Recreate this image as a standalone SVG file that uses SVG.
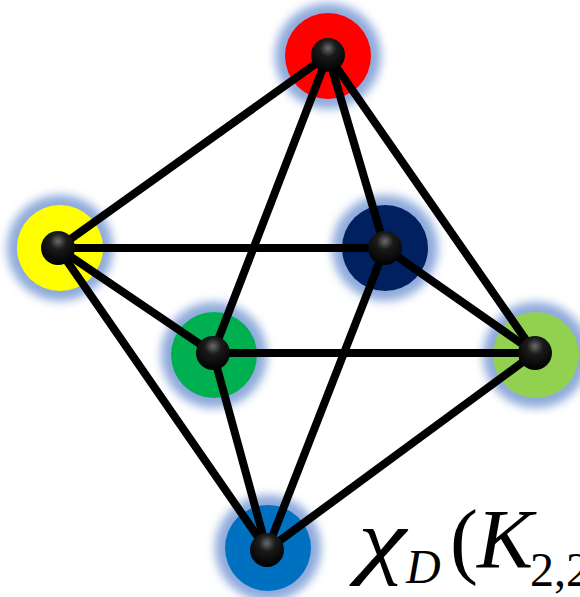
<svg xmlns="http://www.w3.org/2000/svg" width="580" height="597" viewBox="0 0 580 597">
<style>
.glow{fill:#8eaadb;filter:url(#blur)}
.edge{stroke:#000;stroke-width:8;stroke-linecap:round}
.ball{fill:url(#ballg)}
.math{font-family:"Liberation Serif","Times New Roman",serif;fill:#000}
.it{font-style:italic}
</style>
<defs>
<filter id="blur" x="-50%" y="-50%" width="200%" height="200%"><feGaussianBlur stdDeviation="5"/></filter>
<radialGradient id="ballg" cx="0.5" cy="0.3" r="0.7">
<stop offset="0" stop-color="#6a6a6a"/>
<stop offset="0.35" stop-color="#1a1a1a"/>
<stop offset="1" stop-color="#000"/>
</radialGradient>
</defs>
<g id="halos">
<circle class="glow" cx="328" cy="56" r="53"/>
<circle class="glow" cx="60" cy="248" r="53"/>
<circle class="glow" cx="385" cy="248" r="53"/>
<circle class="glow" cx="214" cy="355" r="53"/>
<circle class="glow" cx="536" cy="355" r="53"/>
<circle class="glow" cx="268" cy="548" r="53"/>
</g>
<g id="disc-red"><circle cx="328" cy="56" r="43" fill="#ff0000"/></g>
<g id="disc-yellow"><circle cx="60" cy="248" r="43" fill="#ffff00"/></g>
<g id="disc-navy"><circle cx="385" cy="248" r="43" fill="#002060"/></g>
<g id="disc-green"><circle cx="214" cy="355" r="43" fill="#00b050"/></g>
<g id="disc-lightgreen"><circle cx="536" cy="355" r="43" fill="#92d050"/></g>
<g id="disc-blue"><circle cx="268" cy="548" r="43" fill="#0070c0"/></g>
<g id="connectors">
<line class="edge" x1="328" y1="55" x2="58" y2="248"/>
<line class="edge" x1="328" y1="55" x2="213" y2="353"/>
<line class="edge" x1="328" y1="55" x2="385" y2="248"/>
<line class="edge" x1="328" y1="55" x2="535" y2="353"/>
<line class="edge" x1="58" y1="248" x2="385" y2="248"/>
<line class="edge" x1="58" y1="248" x2="213" y2="353"/>
<line class="edge" x1="58" y1="248" x2="267" y2="550"/>
<line class="edge" x1="385" y1="248" x2="535" y2="353"/>
<line class="edge" x1="385" y1="248" x2="267" y2="550"/>
<line class="edge" x1="213" y1="353" x2="535" y2="353"/>
<line class="edge" x1="213" y1="353" x2="267" y2="550"/>
<line class="edge" x1="535" y1="353" x2="267" y2="550"/>
</g>
<g id="node-red"><circle class="ball" cx="328" cy="55" r="17"/></g>
<g id="node-yellow"><circle class="ball" cx="58" cy="248" r="17"/></g>
<g id="node-navy"><circle class="ball" cx="385" cy="248" r="17"/></g>
<g id="node-green"><circle class="ball" cx="213" cy="353" r="17"/></g>
<g id="node-lightgreen"><circle class="ball" cx="535" cy="353" r="17"/></g>
<g id="node-blue"><circle class="ball" cx="267" cy="550" r="17"/></g>
<g id="label">
<text class="math" y="568" font-size="84"><tspan class="it" x="358" textLength="48" lengthAdjust="spacingAndGlyphs">χ</tspan><tspan class="it" x="406" y="583" font-size="48">D</tspan><tspan x="450" y="568">(</tspan><tspan class="it" x="477" y="568">K</tspan><tspan x="530" y="586" font-size="48">2,2</tspan></text>
</g>
</svg>
